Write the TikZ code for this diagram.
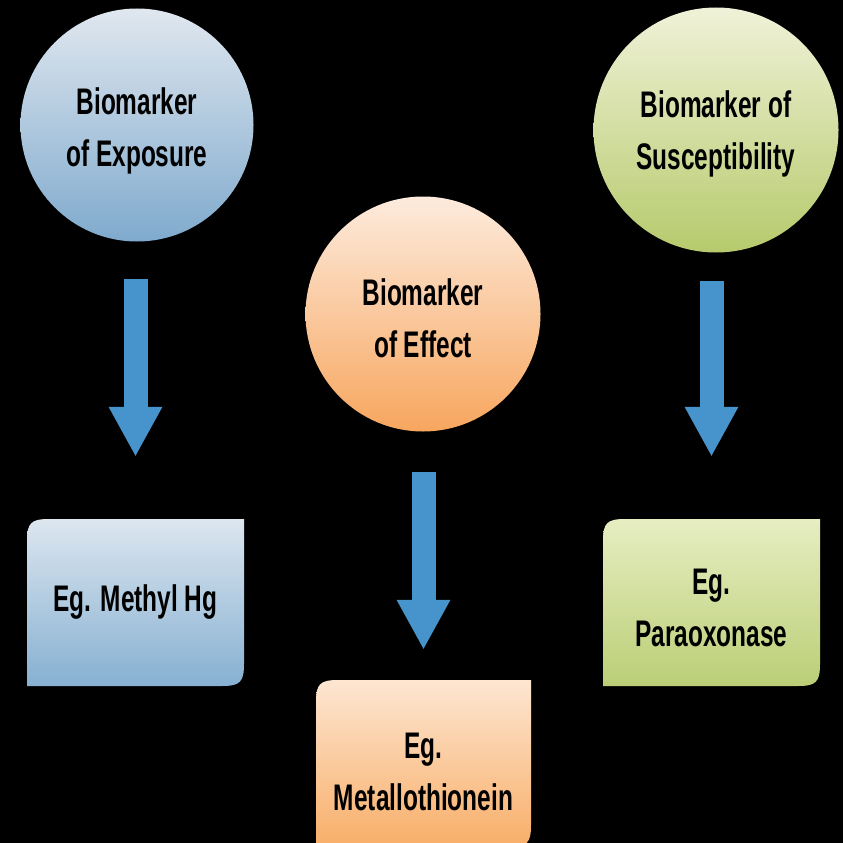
\documentclass[tikz,border=0pt]{standalone}
\usepackage{fontspec}
\setmainfont{Liberation Sans}[FakeStretch=0.66]
\usetikzlibrary{arrows.meta}
\definecolor{bluetop}{HTML}{E0E7EF}
\definecolor{bluebot}{HTML}{7FAACD}
\definecolor{orgtop}{HTML}{FDEBDD}
\definecolor{orgbot}{HTML}{F7A65E}
\definecolor{grntop}{HTML}{F0F2D8}
\definecolor{grnbot}{HTML}{B6CA6C}
\definecolor{bxbluetop}{HTML}{DCE6EF}
\definecolor{bxbluebot}{HTML}{86B0D2}
\definecolor{bxorgtop}{HTML}{FDE6D2}
\definecolor{bxorgbot}{HTML}{F8AE68}
\definecolor{bxgrntop}{HTML}{E6EEC2}
\definecolor{bxgrnbot}{HTML}{BBCE76}
\definecolor{arrowblue}{HTML}{4793CB}
\tikzset{
  bubble/.style={circle, inner sep=0pt, align=center, font=\bfseries\fontsize{37}{52}\selectfont, text=black},
  boxtext/.style={inner sep=0pt, align=center, font=\bfseries\fontsize{37}{52}\selectfont, text=black},
  bigarrow/.style={line width=24pt, draw=arrowblue, -{Triangle[width=50pt,length=50pt]}},
}
\newcommand{\flowbox}[6]{% x1 y1 x2 y2 topcolor botcolor
  \shade[top color=#5, bottom color=#6]
    (#1,#4) -- (#1,#2+22) .. controls (#1,#2+4) and (#1+4,#2) .. (#1+22,#2) -- (#3,#2)
    -- (#3,#4-22) .. controls (#3,#4-4) and (#3-4,#4) .. (#3-22,#4) -- cycle;
}
\begin{document}
\begin{tikzpicture}[x=1pt,y=-1pt]
\useasboundingbox (0,0) rectangle (843,843);
\fill[black] (0,0) rectangle (843,843);

% boxes (shapes)
\flowbox{27}{519}{244}{686}{bxbluetop}{bxbluebot}
\flowbox{316}{680}{531}{847}{bxorgtop}{bxorgbot}
\flowbox{603}{519}{820}{686}{bxgrntop}{bxgrnbot}

% circles
\node[bubble, minimum size=233pt, top color=bluetop, bottom color=bluebot] (c1) at (137,125) {};
\node[bubble, minimum size=235pt, top color=orgtop, bottom color=orgbot] (c2) at (423,314) {};
\node[bubble, minimum size=245pt, top color=grntop, bottom color=grnbot] (c3) at (716,130) {};

\node[boxtext] (t1) at (137,131) {Biomarker\\of Exposure};
\node[boxtext] (t2) at (423,318) {Biomarker\\of Effect};
\node[boxtext] (t3) at (716,134) {Biomarker of\\Susceptibility};

% box texts
\node[boxtext, minimum width=217pt, minimum height=167pt] (b1) at (135.5,602.5) {Eg. Methyl Hg};
\node[boxtext, minimum width=215pt, minimum height=167pt] (b2) at (423.5,763.5) {};
\node[boxtext] (b2t) at (423.5,772) {Eg.\\Metallothionein};
\node[boxtext, minimum width=217pt, minimum height=167pt] (b3) at (711.5,602.5) {};
\node[boxtext] (b3t) at (711.5,608) {Eg.\\Paraoxonase};

% arrows
\draw[bigarrow, shorten <=37pt, shorten >=62pt] (c1.south -| b1.north) -- (b1.north);
\draw[bigarrow, shorten <=40pt, shorten >=30pt] (c2.south -| b2.north) -- (b2.north);
\draw[bigarrow, shorten <=28pt, shorten >=62pt] (c3.south -| b3.north) -- (b3.north);
\end{tikzpicture}
\end{document}
